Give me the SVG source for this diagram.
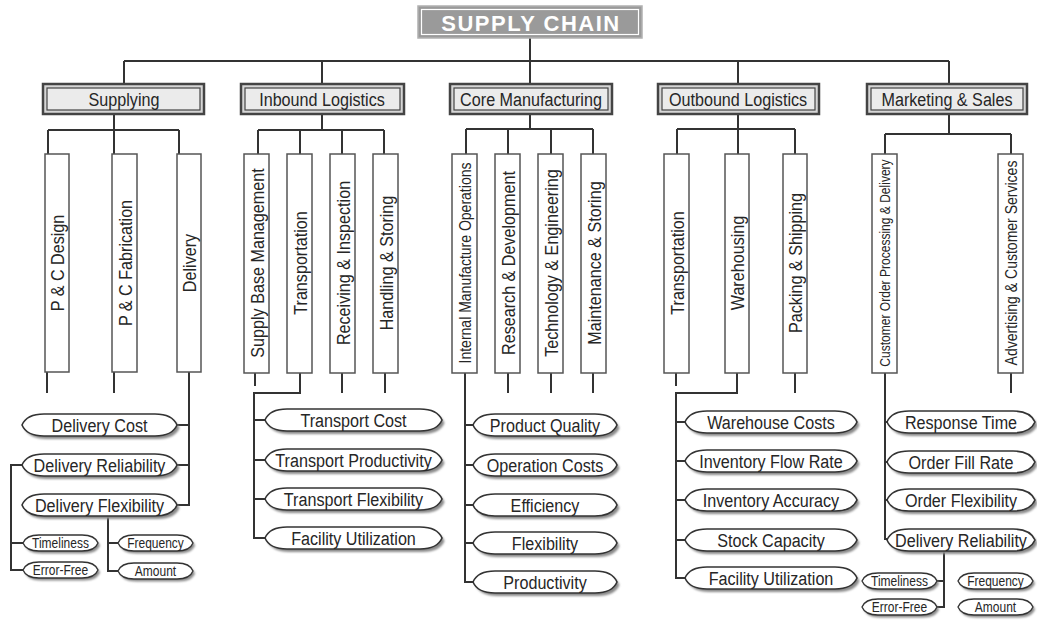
<svg xmlns="http://www.w3.org/2000/svg" xmlns:xlink="http://www.w3.org/1999/xlink" width="1037" height="623" viewBox="0 0 1037 623">
<style>
text{font-family:"Liberation Sans",Arial,sans-serif;fill:#262626;text-anchor:middle}
.t16{font-size:19px}
.t14{font-size:16.5px}
.t12{font-size:14px}
.ts{font-size:15px}
.title{font-size:22px;font-weight:bold;fill:#fff;letter-spacing:1.5px}
.conn path{fill:none;stroke:#333;stroke-width:2}
.outer{fill:#d6d6d6;stroke:#444;stroke-width:2.5}
.inner{fill:#ebebeb;stroke:#444;stroke-width:1.2}
.vbox{fill:#fff;stroke:#555;stroke-width:1.5}
.ov{fill:#fff;stroke:#333;stroke-width:1.6}
.sh{fill:#8a8a8a;filter:url(#blur)}
</style>
<defs>
<filter id="blur" x="-10%" y="-50%" width="120%" height="200%"><feGaussianBlur stdDeviation="1"/></filter>
<path id="p155" d="M0 0c3-7 10-11 22-11h111c12 0 19 4 22 11c-3 7-10 11-22 11h-111c-12 0-19-4-22-11z"/>
<path id="p177" d="M0 0c3-7 10-11 22-11h133c12 0 19 4 22 11c-3 7-10 11-22 11h-133c-12 0-19-4-22-11z"/>
<path id="p144" d="M0 0c3-7 10-11 22-11h100c12 0 19 4 22 11c-3 7-10 11-22 11h-100c-12 0-19-4-22-11z"/>
<path id="p172" d="M0 0c3-7 10-11 22-11h128c12 0 19 4 22 11c-3 7-10 11-22 11h-128c-12 0-19-4-22-11z"/>
<path id="p148" d="M0 0c3-7 10-11 22-11h104c12 0 19 4 22 11c-3 7-10 11-22 11h-104c-12 0-19-4-22-11z"/>
<path id="p75" d="M0 0c2-5 7-8 16-8h43c9 0 14 3 16 8c-2 5-7 8-16 8h-43c-9 0-14-3-16-8z"/>
<g id="o155"><use xlink:href="#p155" class="sh" x="2.5" y="3"/><use xlink:href="#p155" class="ov"/></g>
<g id="o177"><use xlink:href="#p177" class="sh" x="2.5" y="3"/><use xlink:href="#p177" class="ov"/></g>
<g id="o144"><use xlink:href="#p144" class="sh" x="2.5" y="3"/><use xlink:href="#p144" class="ov"/></g>
<g id="o172"><use xlink:href="#p172" class="sh" x="2.5" y="3"/><use xlink:href="#p172" class="ov"/></g>
<g id="o148"><use xlink:href="#p148" class="sh" x="2.5" y="3"/><use xlink:href="#p148" class="ov"/></g>
<g id="o75"><use xlink:href="#p75" class="sh" x="2" y="2.5"/><use xlink:href="#p75" class="ov" style="stroke-width:1.3"/></g>
</defs>
<rect width="1037" height="623" fill="#fff"/>

<g id="connectors" class="conn">
<path d="M530 38V61M124 61H949M124 61V84M322 61V84M530 61V84M738 61V84M949 61V84"/>
<path d="M114 114V154M48 130H179M48 130V154M179 130V154"/>
<path d="M322 114V130M258 130H384M258 130V154M300 130V154M342 130V154M384 130V154"/>
<path d="M530 114V129M466 129H593M466 129V154M508 129V154M551 129V154M593 129V154"/>
<path d="M738 114V129M677 129H795M677 129V154M738 129V154M795 129V154"/>
<path d="M949 114V134M885 134H1011M885 134V154M1011 134V154"/>
<path d="M47 372V393M114 372V393M189 372V505H177M177 425H189M177 465H189"/>
<path d="M22 465H11V570H23M11 543H23M108 516V571H118M108 543H118"/>
<path d="M255 373V386M300 373V393H254V538H265M254 420H265M254 460H265M254 499H265M342 373V393M385 373V393"/>
<path d="M465 373V582H473M465 425H473M465 465H473M465 505H473M465 543H473M508 373V393M551 373V393M593 373V393"/>
<path d="M676 373V386M737 373V393H676V578H685M676 422H685M676 461H685M676 500H685M676 540H685M795 373V393"/>
<path d="M885 373V539H887M885 422H887M885 462H887M885 500H887M1011 373V393M944 551V607H937M944 581H937"/>
</g>

<g id="supply-chain">
<rect x="418" y="6" width="224" height="32" fill="#9a9a9a" stroke="#b0b0b0" stroke-width="1.5"/>
<rect x="421.5" y="9.5" width="217" height="25" fill="none" stroke="#fff" stroke-width="1.2"/>
<text class="title" x="531" y="31">SUPPLY CHAIN</text>
</g>

<g id="supplying"><rect class="outer" x="43" y="84" width="161" height="30"/><rect class="inner" x="47" y="88" width="153" height="22"/><text class="t16" transform="translate(124 105.5) scale(0.85 1)">Supplying</text></g>
<g id="inbound-logistics"><rect class="outer" x="241" y="84" width="163" height="30"/><rect class="inner" x="245" y="88" width="155" height="22"/><text class="t16" transform="translate(322 105.5) scale(0.85 1)">Inbound Logistics</text></g>
<g id="core-manufacturing"><rect class="outer" x="450" y="84" width="162" height="30"/><rect class="inner" x="454" y="88" width="154" height="22"/><text class="t16" transform="translate(531 105.5) scale(0.85 1)">Core Manufacturing</text></g>
<g id="outbound-logistics"><rect class="outer" x="658" y="84" width="161" height="30"/><rect class="inner" x="662" y="88" width="153" height="22"/><text class="t16" transform="translate(738 105.5) scale(0.85 1)">Outbound Logistics</text></g>
<g id="marketing-sales"><rect class="outer" x="867" y="84" width="160" height="30"/><rect class="inner" x="871" y="88" width="152" height="22"/><text class="t16" transform="translate(947 105.5) scale(0.85 1)">Marketing &amp; Sales</text></g>

<g id="pc-design"><rect class="vbox" x="45" y="154" width="24" height="218"/><text class="t16" transform="translate(64 263) rotate(-90) scale(0.85 1)">P &amp; C Design</text></g>
<g id="pc-fabrication"><rect class="vbox" x="112" y="154" width="25" height="218"/><text class="t16" transform="translate(131.5 263) rotate(-90) scale(0.85 1)">P &amp; C Fabrication</text></g>
<g id="delivery"><rect class="vbox" x="177" y="154" width="24" height="218"/><text class="t16" transform="translate(196 263) rotate(-90) scale(0.85 1)">Delivery</text></g>

<g id="supply-base-management"><rect class="vbox" x="244" y="154" width="25" height="219"/><text class="t16" transform="translate(263.5 263) rotate(-90) scale(0.85 1)">Supply Base Management</text></g>
<g id="in-transportation"><rect class="vbox" x="287" y="154" width="25" height="219"/><text class="t16" transform="translate(306.5 263) rotate(-90) scale(0.85 1)">Transportation</text></g>
<g id="receiving-inspection"><rect class="vbox" x="330" y="154" width="25" height="219"/><text class="t16" transform="translate(349.5 263) rotate(-90) scale(0.85 1)">Receiving &amp; Inspection</text></g>
<g id="handling-storing"><rect class="vbox" x="373" y="154" width="25" height="219"/><text class="t16" transform="translate(392.5 263) rotate(-90) scale(0.85 1)">Handling &amp; Storing</text></g>

<g id="internal-manufacture-operations"><rect class="vbox" x="452" y="154" width="25" height="219"/><text class="t14" transform="translate(470.5 263) rotate(-90) scale(0.85 1)">Internal Manufacture Operations</text></g>
<g id="research-development"><rect class="vbox" x="495" y="154" width="25" height="219"/><text class="t16" transform="translate(514.5 263) rotate(-90) scale(0.85 1)">Research &amp; Development</text></g>
<g id="technology-engineering"><rect class="vbox" x="538" y="154" width="25" height="219"/><text class="t16" transform="translate(557.5 263) rotate(-90) scale(0.85 1)">Technology &amp; Engineering</text></g>
<g id="maintenance-storing"><rect class="vbox" x="581" y="154" width="25" height="219"/><text class="t16" transform="translate(600.5 263) rotate(-90) scale(0.85 1)">Maintenance &amp; Storing</text></g>

<g id="out-transportation"><rect class="vbox" x="664" y="154" width="25" height="219"/><text class="t16" transform="translate(683.5 263) rotate(-90) scale(0.85 1)">Transportation</text></g>
<g id="warehousing"><rect class="vbox" x="725" y="154" width="24" height="219"/><text class="t16" transform="translate(743.5 263) rotate(-90) scale(0.85 1)">Warehousing</text></g>
<g id="packing-shipping"><rect class="vbox" x="783" y="154" width="24" height="219"/><text class="t16" transform="translate(801.5 263) rotate(-90) scale(0.85 1)">Packing &amp; Shipping</text></g>

<g id="customer-order-processing"><rect class="vbox" x="872" y="154" width="25" height="219"/><text class="t12" transform="translate(889.5 263) rotate(-90) scale(0.86 1)">Customer Order Processing &amp; Delivery</text></g>
<g id="advertising-customer-services"><rect class="vbox" x="998" y="154" width="25" height="219"/><text class="t14" transform="translate(1016.5 263) rotate(-90) scale(0.85 1)">Advertising &amp; Customer Services</text></g>

<g id="delivery-cost"><use xlink:href="#o155" x="22" y="425"/><text class="t16" transform="translate(99.5 432) scale(0.85 1)">Delivery Cost</text></g>
<g id="delivery-reliability"><use xlink:href="#o155" x="22" y="465"/><text class="t16" transform="translate(99.5 472) scale(0.85 1)">Delivery Reliability</text></g>
<g id="delivery-flexibility"><use xlink:href="#o155" x="22" y="505"/><text class="t16" transform="translate(99.5 512) scale(0.85 1)">Delivery Flexibility</text></g>
<g id="s-timeliness"><use xlink:href="#o75" x="23" y="543"/><text class="ts" transform="translate(60.5 548) scale(0.8 1)">Timeliness</text></g>
<g id="s-error-free"><use xlink:href="#o75" x="23" y="570"/><text class="ts" transform="translate(60.5 575) scale(0.8 1)">Error-Free</text></g>
<g id="s-frequency"><use xlink:href="#o75" x="118" y="543"/><text class="ts" transform="translate(155.5 548) scale(0.8 1)">Frequency</text></g>
<g id="s-amount"><use xlink:href="#o75" x="118" y="571"/><text class="ts" transform="translate(155.5 576) scale(0.8 1)">Amount</text></g>

<g id="transport-cost"><use xlink:href="#o177" x="265" y="420"/><text class="t16" transform="translate(353.5 427) scale(0.85 1)">Transport Cost</text></g>
<g id="transport-productivity"><use xlink:href="#o177" x="265" y="460"/><text class="t16" transform="translate(353.5 467) scale(0.85 1)">Transport Productivity</text></g>
<g id="transport-flexibility"><use xlink:href="#o177" x="265" y="499"/><text class="t16" transform="translate(353.5 506) scale(0.85 1)">Transport Flexibility</text></g>
<g id="in-facility-utilization"><use xlink:href="#o177" x="265" y="538"/><text class="t16" transform="translate(353.5 545) scale(0.85 1)">Facility Utilization</text></g>

<g id="product-quality"><use xlink:href="#o144" x="473" y="425"/><text class="t16" transform="translate(545 432) scale(0.85 1)">Product Quality</text></g>
<g id="operation-costs"><use xlink:href="#o144" x="473" y="465"/><text class="t16" transform="translate(545 472) scale(0.85 1)">Operation Costs</text></g>
<g id="efficiency"><use xlink:href="#o144" x="473" y="505"/><text class="t16" transform="translate(545 512) scale(0.85 1)">Efficiency</text></g>
<g id="flexibility"><use xlink:href="#o144" x="473" y="543"/><text class="t16" transform="translate(545 550) scale(0.85 1)">Flexibility</text></g>
<g id="productivity"><use xlink:href="#o144" x="473" y="582"/><text class="t16" transform="translate(545 589) scale(0.85 1)">Productivity</text></g>

<g id="warehouse-costs"><use xlink:href="#o172" x="685" y="422"/><text class="t16" transform="translate(771 429) scale(0.85 1)">Warehouse Costs</text></g>
<g id="inventory-flow-rate"><use xlink:href="#o172" x="685" y="461"/><text class="t16" transform="translate(771 468) scale(0.85 1)">Inventory Flow Rate</text></g>
<g id="inventory-accuracy"><use xlink:href="#o172" x="685" y="500"/><text class="t16" transform="translate(771 507) scale(0.85 1)">Inventory Accuracy</text></g>
<g id="stock-capacity"><use xlink:href="#o172" x="685" y="540"/><text class="t16" transform="translate(771 547) scale(0.85 1)">Stock Capacity</text></g>
<g id="out-facility-utilization"><use xlink:href="#o172" x="685" y="578"/><text class="t16" transform="translate(771 585) scale(0.85 1)">Facility Utilization</text></g>

<g id="response-time"><use xlink:href="#o148" x="887" y="422"/><text class="t16" transform="translate(961 429) scale(0.85 1)">Response Time</text></g>
<g id="order-fill-rate"><use xlink:href="#o148" x="887" y="462"/><text class="t16" transform="translate(961 469) scale(0.85 1)">Order Fill Rate</text></g>
<g id="order-flexibility"><use xlink:href="#o148" x="887" y="500"/><text class="t16" transform="translate(961 507) scale(0.85 1)">Order Flexibility</text></g>
<g id="m-delivery-reliability"><use xlink:href="#o148" x="887" y="540"/><text class="t16" transform="translate(961 547) scale(0.85 1)">Delivery Reliability</text></g>
<g id="m-timeliness"><use xlink:href="#o75" x="862" y="581"/><text class="ts" transform="translate(899.5 586) scale(0.8 1)">Timeliness</text></g>
<g id="m-error-free"><use xlink:href="#o75" x="862" y="607"/><text class="ts" transform="translate(899.5 612) scale(0.8 1)">Error-Free</text></g>
<g id="m-frequency"><use xlink:href="#o75" x="958" y="581"/><text class="ts" transform="translate(995.5 586) scale(0.8 1)">Frequency</text></g>
<g id="m-amount"><use xlink:href="#o75" x="958" y="607"/><text class="ts" transform="translate(995.5 612) scale(0.8 1)">Amount</text></g>
</svg>
